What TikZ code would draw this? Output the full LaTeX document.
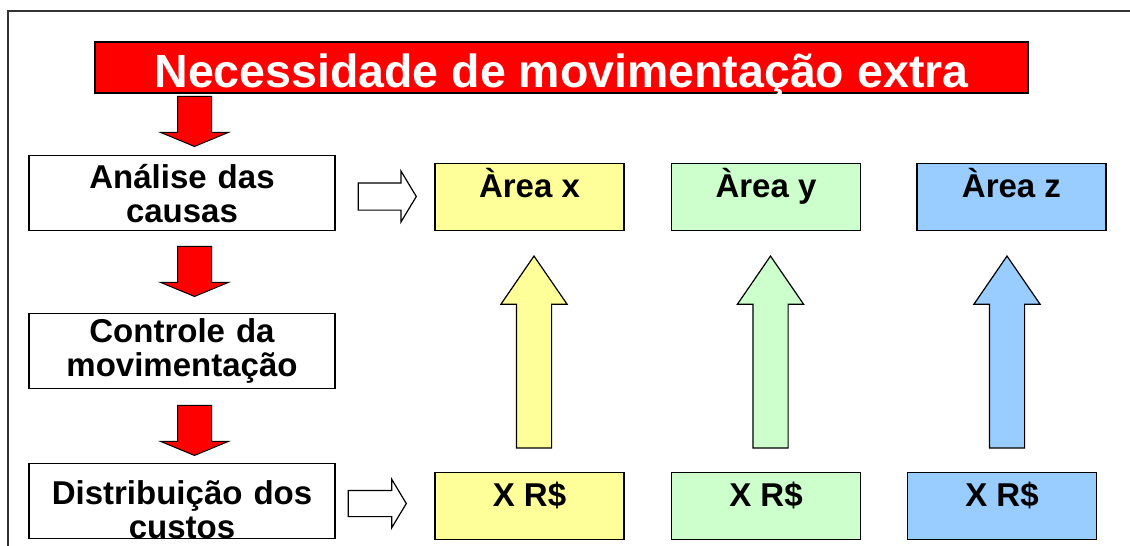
\documentclass[tikz,border=0pt]{standalone}
\usepackage{fontspec}
\setmainfont{Liberation Sans}
\usetikzlibrary{shapes.arrows}

\definecolor{titlered}{HTML}{FF0000}
\definecolor{areayellow}{HTML}{FFFF99}
\definecolor{areagreen}{HTML}{CCFFCC}
\definecolor{areablue}{HTML}{99CCFF}

\begin{document}
\begin{tikzpicture}[x=1pt, y=-1pt,
        stagebox/.style={draw, line width=1.3pt, fill=white, inner sep=0pt,
                text width=306pt, align=center,
                font=\fontsize{33}{34}\selectfont\bfseries},
        areabox/.style={draw, line width=1.3pt, fill=#1, inner sep=0pt,
                minimum width=189pt, text height=34pt, text depth=33pt,
                font=\fontsize{33}{34}\selectfont\bfseries},
        downarrow/.style={single arrow, draw, line width=1pt, fill=titlered,
                rotate=-90, anchor=tip, inner sep=0pt, text height=16.5pt, text depth=16.5pt,
                minimum height=50pt, minimum width=67pt,
                single arrow head extend=17pt, single arrow tip angle=135},
        rightarrow/.style={single arrow, draw, line width=1.2pt, fill=white,
                anchor=tip, inner sep=0pt, text height=13pt, text depth=13pt,
                minimum height=58pt, minimum width=50pt,
                single arrow head extend=12pt, single arrow tip angle=118},
        uparrow/.style={single arrow, draw, line width=1.2pt, fill=#1,
                rotate=90, anchor=tip, inner sep=0pt, text height=17pt, text depth=17pt,
                minimum height=192pt, minimum width=65pt,
                single arrow head extend=15.5pt, single arrow tip angle=69}]
        \useasboundingbox (0,0) rectangle (1130,546);
        % Frame:
        \draw[line width=2pt, black!80] (8,546) |- (1130,11);
        % Title and the stages on the left:
        \node[draw, line width=1.5pt, fill=titlered, text=white, inner sep=0pt,
                minimum width=933pt, text height=46pt, text depth=5pt,
                font=\fontsize{46.5}{48}\selectfont\bfseries] (title) at (561.5,41) [anchor=north] {Necessidade de movimentação extra};
        \node[stagebox, text height=33pt, text depth=42pt] (causes) at (182,155) [anchor=north] {Análise das\\causas};
        \node[stagebox, text height=29pt, text depth=46pt] (control) at (182,313) [anchor=north] {Controle da\\movimentação};
        \node[stagebox, text height=41pt, text depth=34pt] (costs) at (182,463) [anchor=north] {Distribuição dos\\custos};
        \node[downarrow] (down1) at (194.5,147) {};
        \node[downarrow] (down2) at (194.5,297) {};
        \node[downarrow] (down3) at (194.5,456) {};
        % Areas and their costs:
        \node[areabox=areayellow] (areax) at (529.5,163) [anchor=north] {Àrea x};
        \node[areabox=areagreen] (areay) at (766,163) [anchor=north] {Àrea y};
        \node[areabox=areablue] (areaz) at (1011.5,163) [anchor=north] {Àrea z};
        \node[areabox=areayellow] (costx) at (529.5,472) [anchor=north] {X R\$};
        \node[areabox=areagreen] (costy) at (766,472) [anchor=north] {X R\$};
        \node[areabox=areablue] (costz) at (1002,472) [anchor=north] {X R\$};
        \node[rightarrow] (toareas) at (417,196.5) {};
        \node[rightarrow, text height=12.5pt, text depth=12.5pt, minimum width=47pt,
                single arrow head extend=11pt] (tocosts) at (407,503.5) {};
        \node[uparrow=areayellow] (upx) at (534,255) {};
        \node[uparrow=areagreen] (upy) at (770.5,255) {};
        \node[uparrow=areablue] (upz) at (1007,255) {};
\end{tikzpicture}
\end{document}
